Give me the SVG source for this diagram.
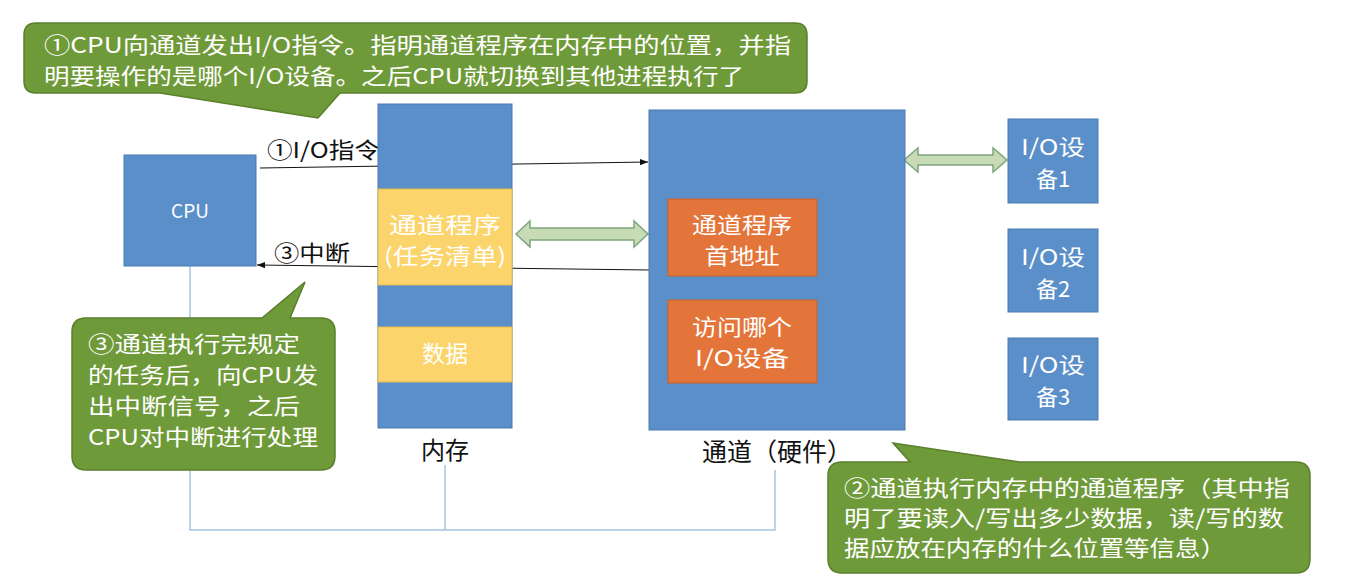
<svg xmlns="http://www.w3.org/2000/svg" width="1348" height="576" viewBox="0 0 1348 576">
<defs>
<style>
.blue{fill:#5b8fc9;stroke:#4a7bb0;stroke-width:1}
.yel{fill:#fcd46c;stroke:#e0b850;stroke-width:1}
.org{fill:#e4753a;stroke:#c7602a;stroke-width:1}
.call{fill:#6f9a3a;stroke:#5a7f2c;stroke-width:1.5}
.dbl{fill:#c7dcb5;stroke:#7fa57f;stroke-width:1.5}
text{font-family:"Noto Sans CJK SC","Noto Sans",sans-serif}
.w{fill:#fff;font-size:22px}
.wc{fill:#fff;font-size:22px;text-anchor:middle}
.k{fill:#111;font-size:22px}
.line{stroke:#111;stroke-width:1;fill:none}
.bus{stroke:#a8c2e4;stroke-width:1.5;fill:none}
</style>
<marker id="ah" viewBox="0 0 10 10" refX="10" refY="5" markerWidth="8" markerHeight="8" orient="auto"><path d="M0,1 L10,5 L0,9 z" fill="#111"/></marker>
</defs>
<rect width="1348" height="576" fill="#fff"/>
<g id="connectors">
<path class="bus" d="M190,266 V530 H775 V470 M445,530 V465"/>
<line class="line" x1="260" y1="168" x2="648" y2="162" marker-end="url(#ah)"/>
<line class="line" x1="649" y1="270" x2="257" y2="265" marker-end="url(#ah)"/>
<text class="k" x="267" y="158" textLength="113" lengthAdjust="spacingAndGlyphs">①I/O指令</text>
<text class="k" x="274" y="261" textLength="76" lengthAdjust="spacingAndGlyphs">③中断</text>
<path class="dbl" d="M516,234 L530,221 V228 H634 V221 L648,234 L634,247 V240 H530 V247 Z"/>
<path class="dbl" d="M904,160 L918,148 V155 H993 V148 L1007,160 L993,172 V165 H918 V172 Z"/>
</g>
<g id="cpu"><rect class="blue" x="124" y="155" width="132" height="111"/><text class="wc" x="190" y="218" style="font-size:19px">CPU</text></g>
<g id="memory">
<rect class="blue" x="378" y="104" width="134" height="324"/>
<rect class="yel" x="378" y="189" width="134" height="96"/>
<text class="wc" x="445" y="233" textLength="112" lengthAdjust="spacingAndGlyphs">通道程序</text><text class="wc" x="445" y="264" textLength="122" lengthAdjust="spacingAndGlyphs">(任务清单)</text>
<rect class="yel" x="378" y="327" width="134" height="55"/>
<text class="wc" x="445" y="362" style="font-size:23px">数据</text>
<text class="k" x="445" y="459" text-anchor="middle" style="font-size:24px">内存</text>
</g>
<g id="channel">
<rect class="blue" x="649" y="110" width="256" height="320"/>
<rect class="org" x="668" y="199" width="149" height="77"/>
<text class="wc" x="742" y="233" textLength="100" lengthAdjust="spacingAndGlyphs">通道程序</text><text class="wc" x="742" y="264" textLength="75" lengthAdjust="spacingAndGlyphs">首地址</text>
<rect class="org" x="668" y="300" width="149" height="83"/>
<text class="wc" x="742" y="335" textLength="100" lengthAdjust="spacingAndGlyphs">访问哪个</text><text class="wc" x="742" y="366" textLength="94" lengthAdjust="spacingAndGlyphs">I/O设备</text>
<text class="k" x="777" y="461" text-anchor="middle" style="font-size:25px">通道（硬件）</text>
</g>
<g id="io1"><rect class="blue" x="1008" y="119" width="90" height="84"/><text class="wc" x="1053" y="155" textLength="64" lengthAdjust="spacingAndGlyphs">I/O设</text><text class="wc" x="1053" y="187">备1</text></g>
<g id="io2"><rect class="blue" x="1008" y="229" width="90" height="83"/><text class="wc" x="1053" y="265" textLength="64" lengthAdjust="spacingAndGlyphs">I/O设</text><text class="wc" x="1053" y="297">备2</text></g>
<g id="io3"><rect class="blue" x="1008" y="338" width="90" height="82"/><text class="wc" x="1053" y="373" textLength="64" lengthAdjust="spacingAndGlyphs">I/O设</text><text class="wc" x="1053" y="405">备3</text></g>
<g id="callout1">
<path class="call" d="M36,23 H795 Q807,23 807,35 V81 Q807,93 795,93 H340 L318,118 L160,93 H36 Q24,93 24,81 V35 Q24,23 36,23 Z"/>
<text class="w" x="44" y="53" textLength="747" lengthAdjust="spacingAndGlyphs">①CPU向通道发出I/O指令。指明通道程序在内存中的位置，并指</text>
<text class="w" x="44" y="84" textLength="700" lengthAdjust="spacingAndGlyphs">明要操作的是哪个I/O设备。之后CPU就切换到其他进程执行了</text>
</g>
<g id="callout3">
<path class="call" d="M86,318 H262 L305,282 L290,318 H321 Q335,318 335,332 V456 Q335,470 321,470 H86 Q72,470 72,456 V332 Q72,318 86,318 Z"/>
<text class="w" x="88" y="352" textLength="212" lengthAdjust="spacingAndGlyphs">③通道执行完规定</text>
<text class="w" x="88" y="383" textLength="230" lengthAdjust="spacingAndGlyphs">的任务后，向CPU发</text>
<text class="w" x="88" y="414" textLength="212" lengthAdjust="spacingAndGlyphs">出中断信号，之后</text>
<text class="w" x="88" y="445" textLength="230" lengthAdjust="spacingAndGlyphs">CPU对中断进行处理</text>
</g>
<g id="callout2">
<path class="call" d="M842,462 H910 L893,443 L1020,462 H1296 Q1310,462 1310,476 V559 Q1310,573 1296,573 H842 Q828,573 828,559 V476 Q828,462 842,462 Z"/>
<text class="w" x="844" y="496" textLength="446" lengthAdjust="spacingAndGlyphs">②通道执行内存中的通道程序（其中指</text>
<text class="w" x="844" y="526" textLength="440" lengthAdjust="spacingAndGlyphs">明了要读入/写出多少数据，读/写的数</text>
<text class="w" x="844" y="556" textLength="382" lengthAdjust="spacingAndGlyphs">据应放在内存的什么位置等信息）</text>
</g>
</svg>
